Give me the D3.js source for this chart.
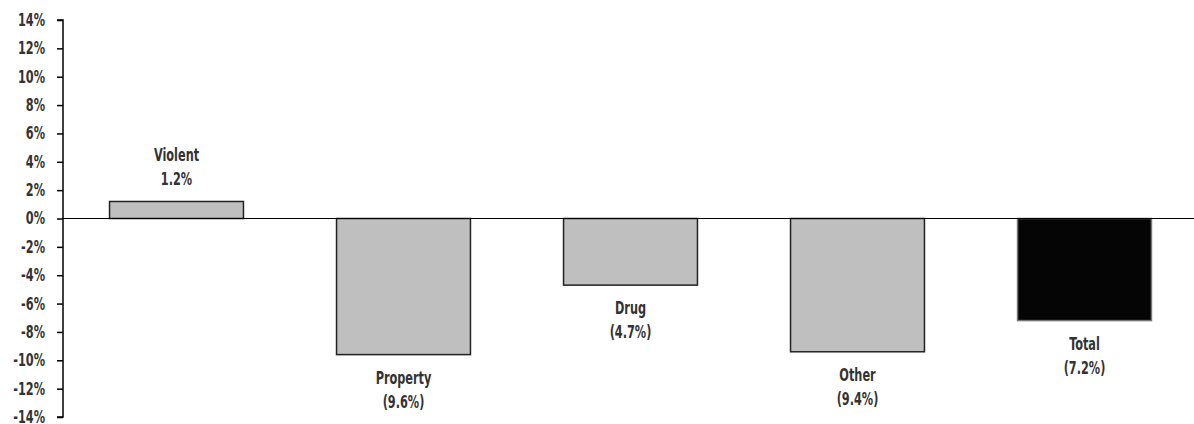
<!DOCTYPE html>
<html>
<head>
<meta charset="utf-8">
<script src="https://cdn.jsdelivr.net/npm/d3@7"></script>
<style>
  html, body { margin: 0; padding: 0; background: #fff; }
  svg text { font-family: "DejaVu Sans Condensed", "Liberation Sans Narrow", sans-serif; font-weight: bold; fill: #333; }
</style>
</head>
<body>
<svg id="chart" width="1194" height="424"></svg>
<script>
// Percent change by offense type
const categories = ["Violent", "Property", "Drug", "Other", "Total"];
const values = [1.2, -9.6, -4.7, -9.4, -7.2];
const valueLabels = ["1.2%", "(9.6%)", "(4.7%)", "(9.4%)", "(7.2%)"];
const tickValues = [14, 12, 10, 8, 6, 4, 2, 0, -2, -4, -6, -8, -10, -12, -14];

const svg = d3.select("#chart");
const axisX = 63;
const squeeze = 0.74;   // horizontal compression for a tall, narrow type look
const fontSize = "17px";

const y = d3.scaleLinear().domain([-14, 14]).range([417, 20]);
const x = d3.scaleBand().domain(categories).range([axisX, 1198])
  .paddingInner(0.41).paddingOuter(0.205);

// Y axis with percent tick labels
const yAxis = d3.axisLeft(y).tickValues(tickValues)
  .tickSize(6).tickPadding(12)
  .tickFormat(d => d + "%");
const gy = svg.append("g").attr("transform", `translate(${axisX},0)`).call(yAxis);
gy.select(".domain").attr("stroke", "#000").attr("stroke-width", 1.5).attr("d", `M-6,${y(14)}H0V${y(-14)}H-6`);
gy.selectAll(".tick line").attr("stroke", "#000").attr("stroke-width", 1.5);
gy.selectAll(".tick text")
  .style("font-size", fontSize)
  .attr("x", -18 / squeeze)
  .attr("transform", `scale(${squeeze},1)`)
  .attr("fill", "#333");

// Bars
svg.append("g").selectAll("rect")
  .data(categories)
  .join("rect")
  .attr("x", d => x(d))
  .attr("width", x.bandwidth())
  .attr("y", (d, i) => y(Math.max(0, values[i])))
  .attr("height", (d, i) => Math.abs(y(values[i]) - y(0)))
  .attr("fill", d => d === "Total" ? "#050505" : "#bfbfbf")
  .attr("stroke", d => d === "Total" ? "#777" : "#222")
  .attr("stroke-width", 1.5);

// Zero baseline across the plot
svg.append("line")
  .attr("x1", axisX).attr("x2", 1194)
  .attr("y1", y(0)).attr("y2", y(0))
  .attr("stroke", "#000").attr("stroke-width", 1.2);

// Category and value labels
const labels = svg.append("g").selectAll("g")
  .data(categories)
  .join("g")
  .attr("transform", (d, i) => {
    const cx = x(d) + x.bandwidth() / 2;
    return `translate(${cx},${y(values[i])})`;
  });

labels.each(function(d, i) {
  const g = d3.select(this);
  const up = values[i] >= 0;
  const lines = [d, valueLabels[i]];
  const offsets = up ? [-40, -16] : [29, 53];
  lines.forEach((t, k) => {
    g.append("text")
      .attr("text-anchor", "middle")
      .attr("transform", `translate(0,${offsets[k]}) scale(${squeeze},1)`)
      .style("font-size", fontSize)
      .text(t);
  });
});
</script>
</body>
</html>
